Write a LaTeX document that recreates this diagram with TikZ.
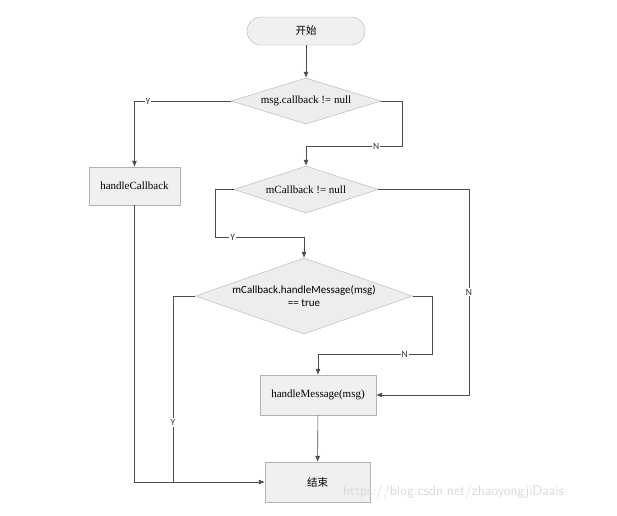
\documentclass[tikz,border=0pt]{standalone}
\usepackage{fontspec}
\setmainfont{Liberation Serif}
\newfontfamily\cjkfont{Noto Sans CJK SC}
\newfontfamily\calfont{Carlito}
\usetikzlibrary{shapes.geometric,arrows.meta}
\tikzset{
  boxnode/.style={draw=gray!60, fill=gray!12, minimum width=#1, inner sep=0pt, font=\fontsize{11}{12}\selectfont},
  dianode/.style={draw=gray!60, fill=gray!14, shape=diamond, inner sep=0pt, font=\fontsize{11}{12}\selectfont},
  arr/.style={draw=gray!60!black, line width=0.6pt, -{Latex[length=6pt,width=5pt]}},
  plain/.style={draw=gray!60!black, line width=0.6pt},
  lbl/.style={fill=white, inner sep=1pt, font=\calfont\fontsize{9.5}{11}\selectfont, text=gray!40!black},
}
\begin{document}
\begin{tikzpicture}[x=1pt,y=-1pt]
\useasboundingbox (0,0) rectangle (617,515);
\fill[white] (0,0) rectangle (617,515);
% nodes
\node[draw=gray!60, fill=gray!12, rounded corners=14pt, minimum width=118pt, minimum height=28pt, inner sep=0pt, font=\cjkfont\fontsize{10.5}{12}\selectfont] (start) at (306,31) {开始};
\node[dianode, minimum width=150pt, minimum height=46pt, aspect=3.26] (d1) at (306,101) {msg.callback != null};
\node[boxnode=91pt, minimum height=38pt] (hc) at (134.5,186) {handleCallback};
\node[dianode, minimum width=144pt, minimum height=47pt, aspect=3.06] (d2) at (306,189.5) {mCallback != null};
\node[dianode, minimum width=217pt, minimum height=76pt, aspect=2.86, align=center, font=\calfont\fontsize{11}{13}\selectfont] (d3) at (304,296) {mCallback.handleMessage(msg)\\== true};
\node[boxnode=116pt, minimum height=40pt] (hm) at (318,395) {handleMessage(msg)};
\node[boxnode=105pt, minimum height=40pt, font=\cjkfont\fontsize{10.5}{12}\selectfont] (end) at (317.5,482) {结束};
% helper coordinates
\coordinate (n1) at (402,146);
\coordinate (y2) at (215,237);
\coordinate (n2) at (469,395);
\coordinate (n3) at (432,354);
\coordinate (y3) at (173,482);
% connectors
\draw[arr] (start) -- (d1);
\draw[arr] (d1.west) -| node[lbl, pos=0.43]{Y} (hc.north);
\draw[arr] (d1.east) -| (n1) -| node[lbl, pos=0.135]{N} (d2.north);
\draw[arr] (d2.west) -| (y2) -| node[lbl, pos=0.1]{Y} (d3.north);
\draw[arr] (d2.east) -| node[lbl, pos=0.75]{N} (n2) -- (hm.east);
\draw[arr] (d3.east) -| (n3) -| node[lbl, pos=0.12]{N} (hm.north);
\draw[plain] (d3.west) -| node[lbl, pos=0.84]{Y} (y3);
\draw[arr] (hm) -- (end);
\draw[arr] (hc.south) |- (end.west);
% watermark
\node[text=gray!30, font=\sffamily\fontsize{14}{15}\selectfont, anchor=west, inner sep=0pt] (wm) at (343,492) {https://blog.csdn.net/zhaoyongjiDaais};
\end{tikzpicture}
\end{document}
